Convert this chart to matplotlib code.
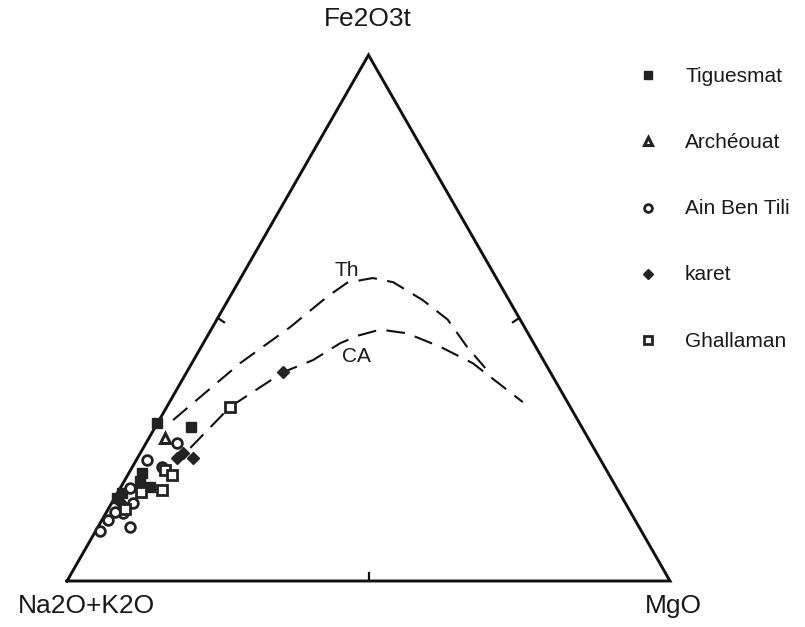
import numpy as np
import matplotlib
matplotlib.use("Agg")
import matplotlib.pyplot as plt

plt.rcParams["font.family"] = ["Liberation Sans", "DejaVu Sans"]

# ternary data in percent: (Na2O+K2O, Fe2O3t, MgO)
tiguesmat_A = [70.0, 64.8, 77.3, 78.4, 77.3, 82.6, 83.8]
tiguesmat_F = [30.0, 29.3, 20.5, 19.0, 17.9, 16.7, 15.8]
tiguesmat_M = [0.0, 5.9, 2.2, 2.6, 4.8, 0.7, 0.4]

archeouat_A = [70.2]
archeouat_F = [27.2]
archeouat_M = [2.7]

ainbentili_A = [68.7, 75.2, 80.7, 81.7, 84.3, 85.5, 87.4, 89.7, 84.4, 73.4]
ainbentili_F = [26.2, 23.0, 17.7, 14.8, 12.9, 13.1, 11.6, 9.5, 10.3, 21.7]
ainbentili_M = [5.1, 1.8, 1.6, 3.5, 2.8, 1.4, 1.0, 0.8, 5.3, 4.9]

karet_A = [44.3, 70.0, 68.6, 67.4, 83.6]
karet_F = [39.7, 23.4, 24.3, 23.4, 14.8]
karet_M = [16.0, 6.6, 7.1, 9.2, 1.6]

ghallaman_A = [56.4, 73.2, 72.5, 75.6, 79.2, 82.7]
ghallaman_F = [33.1, 21.1, 20.2, 17.3, 16.9, 13.5]
ghallaman_M = [10.5, 5.7, 7.3, 7.1, 3.9, 2.8]

# tholeiitic / calc-alkaline boundary curves
th_A = [67.1, 50.6, 38.8, 29.9, 25.2, 20.5, 17.5, 14.3, 12.0, 11.4, 10.4]
th_F = [30.6, 41.4, 48.3, 54.0, 56.7, 57.6, 56.8, 53.4, 49.6, 44.5, 40.5]
th_M = [2.3, 8.0, 12.9, 16.1, 18.1, 21.9, 25.7, 32.3, 38.2, 44.1, 49.1]

ca_A = [66.9, 56.4, 44.3, 38.2, 32.1, 28.6, 24.1, 20.1, 15.8, 12.0, 7.4]
ca_F = [25.3, 33.1, 39.7, 42.0, 45.2, 46.6, 47.7, 47.1, 44.5, 41.4, 34.0]
ca_M = [7.8, 10.5, 16.0, 19.8, 22.7, 24.8, 28.0, 32.8, 39.7, 46.6, 58.6]

H = np.sqrt(3) / 2
W, HT = 805, 627


def tern(a, f, m):
    a, f, m = np.asarray(a, float), np.asarray(f, float), np.asarray(m, float)
    s = a + f + m
    return (m + f / 2) / s, f / s * H


fig = plt.figure(figsize=(W / 100, HT / 100), dpi=100)
ax = fig.add_axes([67 / W, 46 / HT, 603 / W, 526 / HT])
ax.set_xlim(0, 1)
ax.set_ylim(0, H)
ax.axis("off")

# triangle
ax.plot([0, 1, 0.5, 0], [0, 0, H, 0], color="#111111", lw=2.1, clip_on=False,
        solid_joinstyle="miter")

# mid-edge ticks (pointing inward)
d = 0.012
mids = [((0.25, H / 2), (np.cos(np.pi / 6), -np.sin(np.pi / 6))),
        ((0.75, H / 2), (-np.cos(np.pi / 6), -np.sin(np.pi / 6))),
        ((0.5, 0.0), (0.0, 1.0))]
for (mx, my), (nx, ny) in mids:
    ax.plot([mx, mx + nx * d], [my, my + ny * d * 1.15], color="#111111", lw=1.6)

dash = (0, (9, 5))
x, y = tern(th_A, th_F, th_M)
ax.plot(x, y, color="#111111", lw=1.5, ls=dash)
x, y = tern(ca_A, ca_F, ca_M)
ax.plot(x, y, color="#111111", lw=1.5, ls=dash)

series = [
    ("Tiguesmat", tiguesmat_A, tiguesmat_F, tiguesmat_M,
     dict(marker="s", mfc="#222222", mec="#222222", ms=7)),
    ("Archéouat", archeouat_A, archeouat_F, archeouat_M,
     dict(marker="^", mfc="white", mec="#222222", mew=2.2, ms=7)),
    ("Ain Ben Tili", ainbentili_A, ainbentili_F, ainbentili_M,
     dict(marker="o", mfc="white", mec="#222222", mew=2.0, ms=7)),
    ("karet", karet_A, karet_F, karet_M,
     dict(marker="D", mfc="#222222", mec="#222222", ms=6)),
    ("Ghallaman", ghallaman_A, ghallaman_F, ghallaman_M,
     dict(marker="s", mfc="white", mec="#222222", mew=2.0, ms=7)),
]

# legend drawn in figure pixel coordinates
lax = fig.add_axes([0, 0, 1, 1], facecolor="none")
lax.set_xlim(0, W)
lax.set_ylim(HT, 0)
lax.axis("off")

for i, (name, a, f, m, style) in enumerate(series):
    x, y = tern(a, f, m)
    ax.plot(x, y, ls="none", clip_on=False, zorder=3, **style)
    ly = 75 + 66.3 * i
    lst = dict(style)
    lst["ms"] = style["ms"] * 0.8
    lax.plot([648], [ly], ls="none", **lst)
    lax.text(685, ly + 1, name, fontsize=15, ha="left", va="center", color="#1a1a1a")

lax.text(347, 270, "Th", fontsize=15, ha="center", va="center", color="#1a1a1a")
lax.text(356, 356, "CA", fontsize=15, ha="center", va="center", color="#1a1a1a")

lax.text(368, 19, "Fe2O3t", fontsize=19, ha="center", va="center", color="#1a1a1a")
lax.text(86, 606, "Na2O+K2O", fontsize=19, ha="center", va="center", color="#1a1a1a")
lax.text(673, 606, "MgO", fontsize=19, ha="center", va="center", color="#1a1a1a")

fig.savefig("out.png", dpi=100)
